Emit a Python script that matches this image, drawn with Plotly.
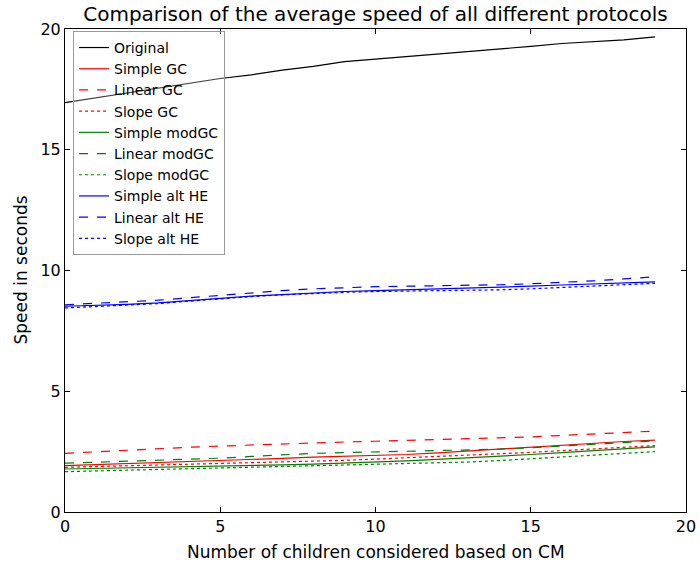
import plotly.graph_objects as go

x_vals = list(range(20))

original = [16.95, 17.15, 17.35, 17.55, 17.75, 17.95, 18.1, 18.3, 18.45, 18.65,
            18.75, 18.85, 18.95, 19.05, 19.15, 19.28, 19.4, 19.48, 19.55, 19.67]

simple_gc = [1.92, 1.96, 2.0, 2.04, 2.08, 2.12, 2.17, 2.22, 2.27, 2.3,
             2.33, 2.38, 2.45, 2.53, 2.62, 2.7, 2.78, 2.85, 2.92, 2.98]
linear_gc = [2.43, 2.5, 2.56, 2.62, 2.68, 2.73, 2.78, 2.83, 2.87, 2.9,
             2.93, 2.96, 2.99, 3.02, 3.06, 3.11, 3.17, 3.23, 3.29, 3.35]
slope_gc = [1.85, 1.88, 1.91, 1.94, 1.97, 2.0, 2.03, 2.06, 2.1, 2.14,
            2.19, 2.24, 2.29, 2.34, 2.4, 2.47, 2.54, 2.61, 2.68, 2.75]

simple_modgc = [1.78, 1.8, 1.83, 1.85, 1.87, 1.9, 1.92, 1.95, 1.98, 2.02,
                2.07, 2.12, 2.18, 2.24, 2.3, 2.38, 2.46, 2.54, 2.62, 2.70]
linear_modgc = [2.02, 2.06, 2.1, 2.14, 2.18, 2.23, 2.3, 2.37, 2.43, 2.46,
                2.49, 2.51, 2.54, 2.56, 2.6, 2.66, 2.73, 2.8, 2.87, 2.95]
slope_modgc = [1.67, 1.7, 1.73, 1.76, 1.79, 1.82, 1.85, 1.88, 1.9, 1.93,
               1.96, 1.99, 2.03, 2.07, 2.13, 2.2, 2.27, 2.35, 2.42, 2.5]

simple_he = [8.52, 8.55, 8.6, 8.66, 8.76, 8.86, 8.94, 9.0, 9.07, 9.13,
             9.17, 9.2, 9.24, 9.27, 9.3, 9.35, 9.4, 9.45, 9.5, 9.53]
linear_he = [8.58, 8.64, 8.7, 8.77, 8.87, 8.98, 9.08, 9.17, 9.24, 9.3,
             9.33, 9.35, 9.36, 9.38, 9.41, 9.45, 9.5, 9.57, 9.65, 9.74]
slope_he = [8.45, 8.5, 8.56, 8.63, 8.73, 8.83, 8.92, 8.99, 9.05, 9.1,
            9.13, 9.14, 9.15, 9.17, 9.2, 9.24, 9.3, 9.36, 9.42, 9.47]

series = [
    ("Original", original, "#000000", "solid"),
    ("Simple GC", simple_gc, "#ff0000", "solid"),
    ("Linear GC", linear_gc, "#ff0000", "dash"),
    ("Slope GC", slope_gc, "#ff0000", "dot"),
    ("Simple modGC", simple_modgc, "#008000", "solid"),
    ("Linear modGC", linear_modgc, "#008000", "dash"),
    ("Slope modGC", slope_modgc, "#008000", "dot"),
    ("Simple alt HE", simple_he, "#0000ff", "solid"),
    ("Linear alt HE", linear_he, "#0000ff", "dash"),
    ("Slope alt HE", slope_he, "#0000ff", "dot"),
]

FONT = "DejaVu Sans"
W, H = 700, 565
ML, MR, MT, MB = 65, 14, 29, 53

fig = go.Figure()
for name, vals, color, dash in series:
    fig.add_trace(go.Scatter(x=x_vals, y=vals, mode="lines", name=name,
                             line=dict(color=color, dash=dash, width=1.2)))

axis_common = dict(
    showline=True, linecolor="black", linewidth=1, mirror="ticks",
    ticks="inside", ticklen=5, tickcolor="black", tickwidth=1,
    showgrid=False, zeroline=False, automargin=False,
    tickfont=dict(family=FONT, size=16, color="black"),
)
fig.update_layout(
    width=W, height=H,
    margin=dict(l=ML, r=MR, t=MT, b=MB, autoexpand=False),
    paper_bgcolor="white", plot_bgcolor="white",
    font=dict(family=FONT, color="black"),
    title=dict(text="Comparison of the average speed of all different protocols",
               x=0.5, xref="paper", xanchor="center",
               y=1 - 14 / H, yanchor="middle",
               font=dict(family=FONT, size=20, color="black")),
    xaxis=dict(range=[0, 20], tickvals=[0, 5, 10, 15, 20], **axis_common),
    yaxis=dict(range=[0, 20], tickvals=[0, 5, 10, 15, 20], **axis_common),
    legend=dict(x=0.013, y=0.996, xanchor="left", yanchor="top",
                bgcolor="rgba(255,255,255,0.25)", bordercolor="#999999", borderwidth=1,
                font=dict(family=FONT, size=14, color="black"),
                tracegroupgap=0),
    showlegend=True,
    annotations=[
        dict(text="Number of children considered based on CM", xref="paper", yref="paper",
             x=0.5, y=-(552 - (H - MB)) / (H - MT - MB), xanchor="center", yanchor="middle",
             showarrow=False, font=dict(family=FONT, size=17, color="black")),
        dict(text="Speed in seconds", xref="paper", yref="paper",
             x=-(ML - 20) / (W - ML - MR), y=0.5, xanchor="center", yanchor="middle",
             textangle=-90, showarrow=False, font=dict(family=FONT, size=17, color="black")),
    ],
)
fig.write_html("out.html")
